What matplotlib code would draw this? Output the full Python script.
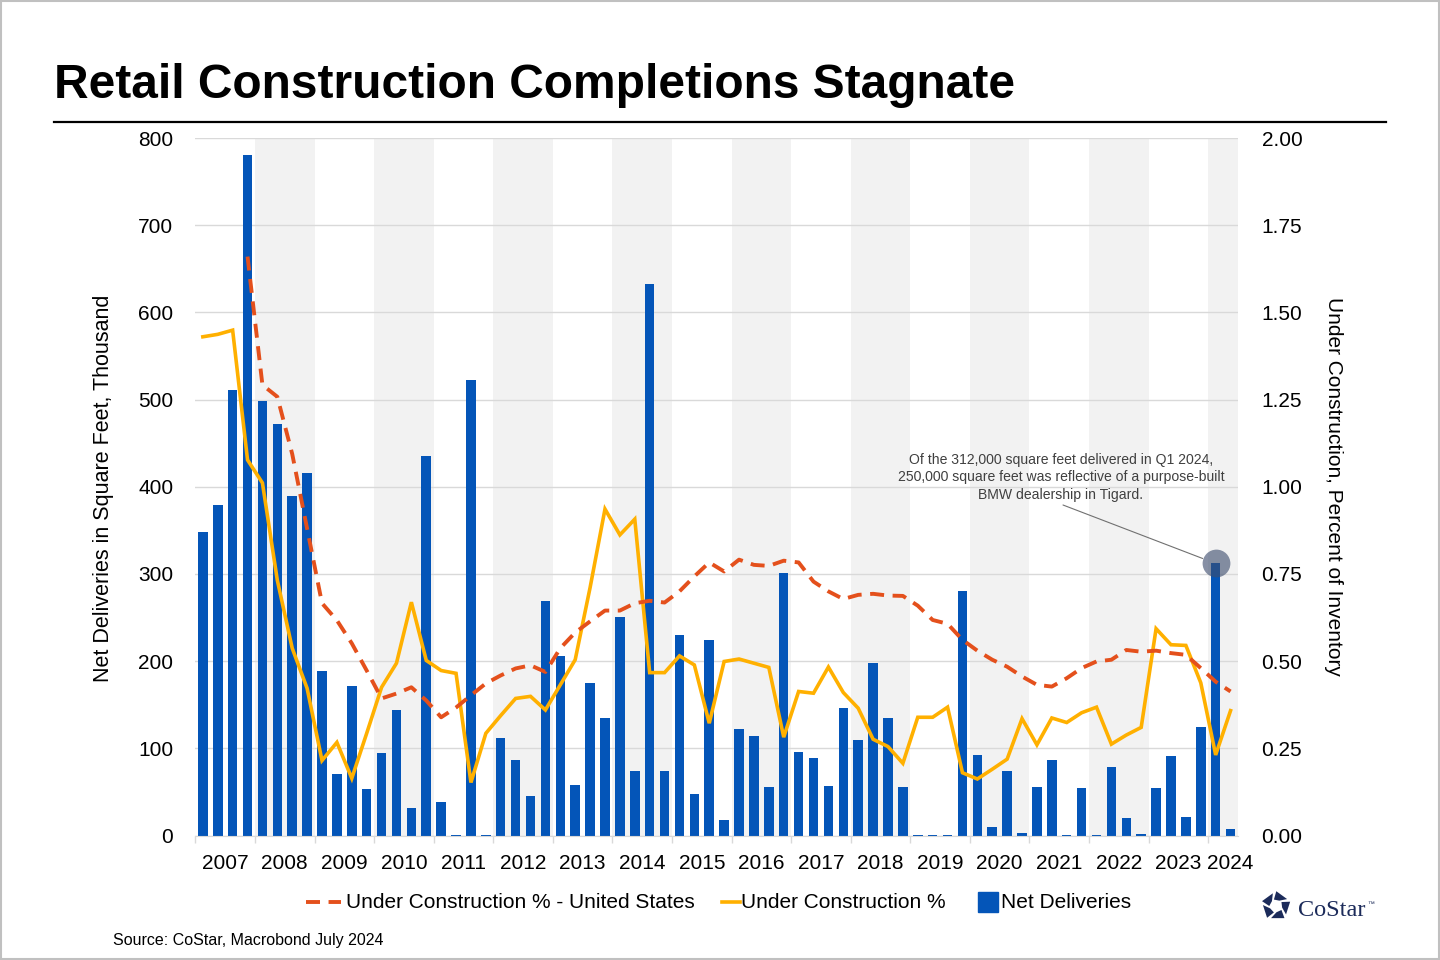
import numpy as np
import matplotlib
matplotlib.use("Agg")
import matplotlib.pyplot as plt
from matplotlib.lines import Line2D
from matplotlib.patches import Rectangle, Polygon
from matplotlib.ticker import FormatStrFormatter

plt.rcParams['font.family'] = ['Liberation Sans', 'DejaVu Sans']

# ---------------- data (quarterly, 2007 Q1 .. 2024 Q2) ----------------
years = list(range(2007, 2025))
year_labels = [str(y) for y in years]

net_deliveries = [
    348, 379, 511, 781,   # 2007
    498, 472, 389, 416,   # 2008
    189, 70, 172, 53,     # 2009
    95, 144, 31, 435,     # 2010
    38, 1, 522, 1,        # 2011
    112, 87, 45, 269,     # 2012
    206, 58, 175, 135,    # 2013
    251, 74, 632, 74,     # 2014
    230, 48, 224, 18,     # 2015
    122, 114, 56, 301,    # 2016
    96, 89, 57, 146,      # 2017
    109, 198, 135, 56,    # 2018
    1, 1, 1, 280,         # 2019
    92, 10, 74, 3,        # 2020
    56, 87, 1, 54,        # 2021
    1, 79, 20, 2,         # 2022
    55, 91, 21, 125,      # 2023
    312, 7,               # 2024
]

under_construction = [
    1.430, 1.437, 1.449, 1.077,
    1.011, 0.732, 0.537, 0.422,
    0.215, 0.267, 0.164, 0.293,
    0.425, 0.494, 0.669, 0.502,
    0.473, 0.465, 0.152, 0.293,
    0.344, 0.393, 0.399, 0.360,
    0.432, 0.504, 0.711, 0.936,
    0.862, 0.907, 0.467, 0.467,
    0.515, 0.489, 0.322, 0.499,
    0.506, 0.494, 0.482, 0.282,
    0.413, 0.408, 0.483, 0.410,
    0.365, 0.276, 0.255, 0.207,
    0.339, 0.339, 0.368, 0.180,
    0.162, 0.190, 0.219, 0.335,
    0.260, 0.337, 0.324, 0.352,
    0.368, 0.262, 0.288, 0.310,
    0.593, 0.547, 0.545, 0.438,
    0.231, 0.358,
]

under_construction_us = [
    np.nan, np.nan, np.nan, 1.660,
    1.292, 1.258, 1.094, 0.880,
    0.666, 0.617, 0.551, 0.473,
    0.393, 0.407, 0.425, 0.387,
    0.339, 0.367, 0.402, 0.436,
    0.459, 0.479, 0.488, 0.469,
    0.537, 0.582, 0.614, 0.645,
    0.645, 0.666, 0.673, 0.668,
    0.700, 0.743, 0.783, 0.757,
    0.791, 0.776, 0.773, 0.788,
    0.783, 0.728, 0.700, 0.678,
    0.690, 0.693, 0.688, 0.687,
    0.659, 0.618, 0.607, 0.561,
    0.530, 0.504, 0.484, 0.456,
    0.432, 0.427, 0.451, 0.480,
    0.499, 0.504, 0.532, 0.527,
    0.530, 0.523, 0.518, 0.480,
    0.441, 0.413,
]

highlight_index = 68  # 2024 Q1
annotation_text = ("Of the 312,000 square feet delivered in Q1 2024,\n"
                   "250,000 square feet was reflective of a purpose-built\n"
                   "BMW dealership in Tigard.")

# ---------------- styling ----------------
BLUE = '#0455B8'
YELLOW = '#FFB000'
ORANGE = '#E4501C'
BAND = '#F2F2F2'
GRID = '#D9D9D9'

W, H = 1440, 960
fig = plt.figure(figsize=(W / 100, H / 100), dpi=100)
fig.patch.set_facecolor('white')

def fx(px):
    return px / W

def fy(py):
    return 1 - py / H

ax = fig.add_axes([fx(195.4), fy(835.5), fx(1238) - fx(195.4), fy(138) - fy(835.5)])
n = len(net_deliveries)
x = np.arange(n)

# alternating year bands
for k, yr in enumerate(years):
    if k % 2 == 1:
        ax.axvspan(4 * k - 0.5, min(4 * k + 3.5, n - 0.5), color=BAND, zorder=0, lw=0)

ax.bar(x, net_deliveries, width=0.64, color=BLUE, zorder=2)
ax.set_xlim(-0.5, n - 0.5)
ax.set_ylim(0, 800)
ax.set_yticks(np.arange(0, 801, 100))
ax.set_axisbelow(True)
ax.grid(axis='y', color=GRID, lw=1.0)
ax.grid(axis='x', visible=False)

centers = [min(4 * k + 1.5, n - 1) for k in range(len(years))]
ax.set_xticks(centers)
ax.set_xticklabels(year_labels)
ax.set_xticks([4 * k - 0.5 for k in range(len(years) + 1) if 4 * k - 0.5 <= n - 0.5], minor=True)
ax.tick_params(axis='x', which='major', length=0, pad=13, labelsize=15)
ax.tick_params(axis='x', which='minor', length=5, color=GRID, width=1)
ax.tick_params(axis='y', length=0, pad=16, labelsize=15)
for s in ['top', 'left', 'right']:
    ax.spines[s].set_visible(False)
ax.spines['bottom'].set_color(GRID)

# highlight circle
ax.scatter([highlight_index], [net_deliveries[highlight_index]], s=400,
           color='#3D4D6E', alpha=0.62, zorder=5, lw=0)
ax.annotate('', xy=(highlight_index, net_deliveries[highlight_index]), xycoords='data',
            xytext=(1063, H - 505), textcoords='figure pixels',
            arrowprops=dict(arrowstyle='-', color='#707070', lw=0.8,
                            shrinkA=0, shrinkB=10), zorder=6)
fig.text(fx(1061), fy(499), annotation_text, ha='center', va='baseline',
         fontsize=10.1, color='#404040', linespacing=1.32,
         multialignment='center')

ax2 = ax.twinx()
ax2.plot(x, under_construction, color=YELLOW, lw=2.6, zorder=3,
         solid_joinstyle='miter')
ax2.plot(x, under_construction_us, color=ORANGE, lw=2.8,
         linestyle=(0, (3.6, 2.2)), zorder=4)
ax2.set_ylim(0, 2)
ax2.set_yticks(np.arange(0, 2.01, 0.25))
ax2.yaxis.set_major_formatter(FormatStrFormatter('%.2f'))
ax2.tick_params(axis='y', length=0, pad=17, labelsize=15)
for s in ax2.spines.values():
    s.set_visible(False)

# axis titles
fig.text(fx(104), fy(488), 'Net Deliveries in Square Feet, Thousand', rotation=90,
         ha='center', va='center', fontsize=15.5)
fig.text(fx(1333), fy(486), 'Under Construction, Percent of Inventory', rotation=270,
         ha='center', va='center', fontsize=15)

# title and rule
fig.text(fx(54), fy(98), 'Retail Construction Completions Stagnate', fontsize=34.45,
         fontweight='bold', ha='left', va='baseline')
fig.add_artist(Line2D([fx(54), fx(1386)], [fy(122), fy(122)], color='black', lw=1.6))

# legend (manual)
fig.add_artist(Line2D([fx(306), fx(341)], [fy(902), fy(902)], color=ORANGE, lw=2.8,
                      linestyle=(0, (3.6, 2.2))))
fig.text(fx(346), fy(908), 'Under Construction % - United States', fontsize=15,
         ha='left', va='baseline')
fig.add_artist(Line2D([fx(722), fx(740)], [fy(902), fy(902)], color=YELLOW, lw=2.6))
fig.text(fx(741), fy(908), 'Under Construction %', fontsize=15, ha='left', va='baseline')
fig.add_artist(Rectangle((fx(978), fy(912)), fx(20), 20 / H, color=BLUE,
                         transform=fig.transFigure))
fig.text(fx(1001), fy(908), 'Net Deliveries', fontsize=15, ha='left', va='baseline')

# source
fig.text(fx(113), fy(945), 'Source: CoStar, Macrobond July 2024', fontsize=11.5,
         ha='left', va='baseline')

# CoStar logo
lax = fig.add_axes([fx(1258), fy(924), fx(36), 36 / H])
lax.set_xlim(-1.2, 1.2)
lax.set_ylim(-1.2, 1.2)
lax.set_aspect('equal')
lax.axis('off')
NAVY = '#1C2B5A'
def pol(r, a):
    return (r * np.cos(np.radians(a)), r * np.sin(np.radians(a)))
for k in range(5):
    a0 = 90 + 72 * k
    a1 = a0 + 72
    V0 = np.array(pol(1.0, a0))
    V1 = np.array(pol(1.0, a1))
    A = V0 + 0.22 * (V1 - V0)
    B = V1 - 0.02 * (V1 - V0)
    C = np.array(pol(0.45, a1 + 18))
    D = np.array(pol(0.42, a0 + 40))
    lax.add_patch(Polygon([A, B, C, D], closed=True, color=NAVY, lw=0))
fig.text(fx(1298), fy(916), 'CoStar', fontsize=17.5, family='Liberation Serif',
         color=NAVY, ha='left', va='baseline')
fig.text(fx(1367), fy(906), '™', fontsize=5, color=NAVY, ha='left', va='baseline')

# outer frame
fig.add_artist(Rectangle((0.0007, 0.001), 0.9986, 0.998, fill=False, edgecolor='#C0C0C0',
                         lw=1.5, transform=fig.transFigure))

fig.savefig('out.png', dpi=100)
